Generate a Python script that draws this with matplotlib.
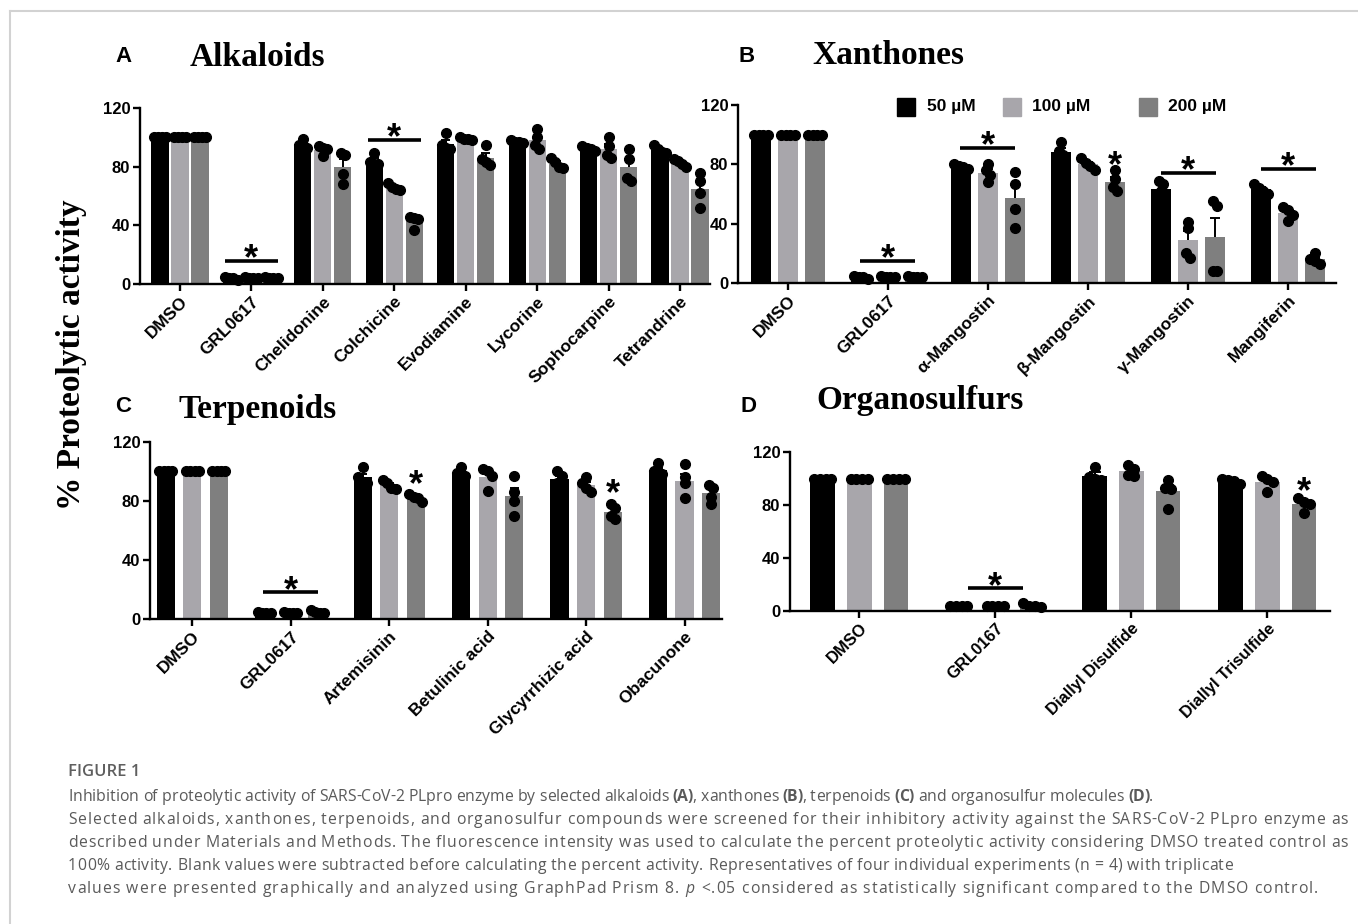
import re
import numpy as np
import matplotlib
matplotlib.use("Agg")
import matplotlib.pyplot as plt
from matplotlib.lines import Line2D
from matplotlib.patches import Rectangle

# -----------------------------
# Replicate values (% activity, n = 4) for 50 / 100 / 200 uM
# -----------------------------
alk_names = ["DMSO", "GRL0617", "Chelidonine", "Colchicine", "Evodiamine",
             "Lycorine", "Sophocarpine", "Tetrandrine"]
alk_50 = [[100, 100, 100, 100], [3, 4, 4, 5], [99, 95, 93, 94], [89, 83, 82, 82],
          [103, 95, 93, 92], [98, 97, 97, 96], [94, 93, 92, 91], [95, 92, 90, 89]]
alk_100 = [[100, 100, 100, 100], [4, 4, 5, 4], [94, 93, 87, 92], [69, 66, 65, 64],
           [100, 99, 98, 99], [106, 100, 95, 92], [100, 94, 88, 86], [85, 84, 82, 80]]
alk_200 = [[100, 100, 100, 100], [4, 5, 4, 4], [89, 88, 75, 68], [46, 45, 44, 37],
           [95, 85, 83, 81], [86, 83, 80, 79], [92, 85, 72, 70], [76, 70, 62, 52]]

xan_names = ["DMSO", "GRL0617", "α-Mangostin", "β-Mangostin", "γ-Mangostin", "Mangiferin"]
xan_50 = [[100, 100, 100, 100], [3, 4, 4, 5], [80, 79, 78, 77], [95, 89, 86, 82],
          [69, 67, 62, 55], [67, 64, 62, 60]]
xan_100 = [[100, 100, 100, 100], [4, 5, 4, 4], [80, 76, 73, 68], [84, 81, 79, 76],
           [41, 37, 20, 17], [51, 49, 46, 42]]
xan_200 = [[100, 100, 100, 100], [4, 5, 4, 4], [75, 67, 50, 37], [76, 70, 65, 62],
           [55, 52, 8, 8], [20, 16, 15, 13]]

ter_names = ["DMSO", "GRL0617", "Artemisinin", "Betulinic acid", "Glycyrrhizic acid", "Obacunone"]
ter_50 = [[100, 100, 100, 100], [4, 4, 5, 4], [103, 96, 93, 92], [103, 99, 98, 97],
          [100, 97, 92, 90], [106, 100, 99, 98]]
ter_100 = [[100, 100, 100, 100], [4, 4, 4, 5], [94, 92, 89, 88], [102, 100, 97, 87],
           [96, 92, 89, 86], [105, 96, 92, 82]]
ter_200 = [[100, 100, 100, 100], [4, 6, 5, 4], [85, 83, 82, 79], [97, 86, 80, 70],
           [78, 75, 70, 68], [91, 89, 83, 78]]

org_names = ["DMSO", "GRL0167", "Diallyl Disulfide", "Diallyl Trisulfide"]
org_50 = [[100, 100, 100, 100], [4, 4, 4, 4], [109, 101, 100, 99], [100, 99, 98, 96]]
org_100 = [[100, 100, 100, 100], [4, 4, 4, 4], [110, 107, 103, 102], [102, 100, 97, 90]]
org_200 = [[100, 100, 100, 100], [3, 4, 6, 4], [99, 93, 92, 77], [85, 82, 81, 74]]

conc_labels = ["50 µM", "100 µM", "200 µM"]

# significance: (group, height) for bracket lines, (group, dose, height) for single stars
alk_lines = [(1, 16), (3, 98)]
xan_lines = [(1, 15), (2, 91), (4, 74), (5, 77)]
xan_stars = [(3, 2, 85)]
ter_lines = [(1, 18)]
ter_stars = [(2, 2, 97), (4, 2, 91)]
org_lines = [(1, 17)]
org_stars = [(3, 2, 97)]

colors = ["#000000", "#a8a6ab", "#7f7f7f"]
W, H = 1358, 924
SANS = "Liberation Sans"
SERIF = "Liberation Serif"
CAP = "Open Sans"


def spread(vals, step, tol=3.0):
    # push overlapping dots sideways, like a Prism scatter
    vals = np.asarray(vals, float)
    order = np.argsort(vals)[::-1]
    clusters = []
    for i in order:
        if clusters and abs(vals[clusters[-1][-1]] - vals[i]) <= tol:
            clusters[-1].append(i)
        else:
            clusters.append([i])
    offs = np.zeros(len(vals))
    for c in clusters:
        n = len(c)
        for k, i in enumerate(c):
            offs[i] = (k - (n - 1) / 2) * step
    return offs


def star(ax, x, y, dy=-14):
    ax.annotate("*", (x, y), xytext=(0, dy), textcoords="offset points",
                ha="center", va="baseline", fontsize=26, fontweight="bold",
                family=SANS, annotation_clip=False)


def panel(rect, names, doses, width, shift, xlim, lines, stars, half, fs=12.5):
    ax = fig.add_axes([rect[0] / W, 1 - rect[3] / H,
                       (rect[2] - rect[0]) / W, (rect[3] - rect[1]) / H])
    x = np.arange(len(names))
    for j, reps in enumerate(doses):
        reps = np.array(reps, float)
        mean = reps.mean(axis=1)
        sem = reps.std(axis=1, ddof=1) / np.sqrt(reps.shape[1])
        xs = x + (j - 1) * shift
        ax.bar(xs, mean, width, color=colors[j], zorder=2)
        ax.vlines(xs, mean, mean + sem, color="k", lw=1.4, zorder=3)
        ax.hlines(mean + sem, xs - width * 0.25, xs + width * 0.25, color="k", lw=1.4, zorder=3)
        for xi, row in zip(xs, reps):
            ax.plot(xi + spread(row, width * 0.24), row, "o", color="k", ms=7,
                    mec="k", zorder=4, clip_on=False)
    for g, yv in lines:
        ax.plot([g - half, g + half], [yv, yv], color="k", lw=2.6, solid_capstyle="butt")
        star(ax, g, yv, dy=-6)
    for g, j, yv in stars:
        star(ax, g + (j - 1) * shift, yv)

    ax.set_xlim(*xlim)
    ax.set_ylim(0, 120)
    ax.spines[["top", "right"]].set_visible(False)
    ax.spines[["left", "bottom"]].set_linewidth(1.7)
    ax.tick_params(width=1.7, length=5, direction="out", pad=2)
    ax.set_yticks([0, 40, 80, 120])
    ax.set_yticklabels(["0", "40", "80", "120"], fontsize=12, fontweight="bold", family=SANS)
    ax.set_xticks(x)
    ax.set_xticklabels(names, rotation=45, ha="right", rotation_mode="anchor",
                       fontsize=fs, fontweight="bold", family=SANS)
    return ax


fig = plt.figure(figsize=(W / 100, H / 100), dpi=100)

panel((140, 108, 710, 284), alk_names, [alk_50, alk_100, alk_200], 0.24, 0.28,
      (-0.56, 7.42), alk_lines, [], 0.37)
panel((738, 105, 1336, 283), xan_names, [xan_50, xan_100, xan_200], 0.195, 0.27,
      (-0.5, 5.48), xan_lines, xan_stars, 0.275)
panel((150, 442, 722, 619), ter_names, [ter_50, ter_100, ter_200], 0.185, 0.27,
      (-0.43, 5.38), ter_lines, ter_stars, 0.28)
panel((790, 452, 1330, 611), org_names, [org_50, org_100, org_200], 0.18, 0.27,
      (-0.51, 3.46), org_lines, org_stars, 0.2, fs=12)

# panel letters and titles
for letter, lx, ly, title, tx, ty in [("A", 123, 57, "Alkaloids", 257, 58),
                                      ("B", 747, 56, "Xanthones", 888, 56),
                                      ("C", 123, 407, "Terpenoids", 258, 409),
                                      ("D", 749, 406, "Organosulfurs", 920, 400)]:
    fig.text(lx / W, 1 - ly / H, letter, family=SANS, weight="bold", size=16,
             ha="center", va="center")
    fig.text(tx / W, 1 - ty / H, title, family=SERIF, weight="bold", size=24,
             ha="center", va="center")

fig.text(72 / W, 1 - 355 / H, "% Proteolytic activity", family=SERIF, weight="bold",
         size=24, rotation=90, ha="center", va="center")

# legend
for lab, col, sx, txx in zip(conc_labels, colors, [897, 1003, 1139], [927, 1032, 1168]):
    fig.add_artist(Rectangle((sx / W, 1 - 116 / H), 18 / W, 18 / H,
                             transform=fig.transFigure, color=col))
    fig.text(txx / W, 1 - 107 / H, lab, family=SANS, weight="bold", size=12.5,
             ha="left", va="center")

# frame lines
fig.add_artist(Line2D([10 / W, 1], [1 - 11 / H, 1 - 11 / H], transform=fig.transFigure,
                      color="#d2d2d2", lw=1.5))
fig.add_artist(Line2D([10 / W, 10 / W], [0, 1 - 11 / H], transform=fig.transFigure,
                      color="#d2d2d2", lw=1.5))

# caption: set glyph by glyph so each line can be letter-spaced to its right edge
cap_lines = [
    "Inhibition of proteolytic activity of SARS-CoV-2 PLpro enzyme by selected alkaloids "
    "(A), xanthones (B), terpenoids (C) and organosulfur molecules (D).",
    "Selected alkaloids, xanthones, terpenoids, and organosulfur compounds were screened for "
    "their inhibitory activity against the SARS-CoV-2 PLpro enzyme as",
    "described under Materials and Methods. The fluorescence intensity was used to calculate "
    "the percent proteolytic activity considering DMSO treated control as",
    "100% activity. Blank values were subtracted before calculating the percent activity. "
    "Representatives of four individual experiments (n = 4) with triplicate",
    "values were presented graphically and analyzed using GraphPad Prism 8. p <.05 "
    "considered as statistically significant compared to the DMSO control.",
]
cap_right = [1153, 1348, 1348, 1233, 1318]
CAP_SIZE = 11.3
CAP_COLOR = "#5a5a5a"

fig.text(68 / W, 1 - 772 / H, "FIGURE 1", family=CAP, weight="semibold",
         size=12, color="#5f5f5f", va="center")

renderer = fig.canvas.get_renderer()


def ink_width(s):
    t = fig.text(0, 0, s, family=CAP, size=CAP_SIZE)
    w = t.get_window_extent(renderer).width
    t.remove()
    return w


for i, (line, right) in enumerate(zip(cap_lines, cap_right)):
    base = 1 - (801 + 23 * i) / H
    bold = set()
    for m in re.finditer(r"\([A-D]\)", line):
        bold.update(range(m.start(), m.end()))
    italic = set(m.start() for m in re.finditer(r"(?<= )p(?= <)", line))
    natural_end = ink_width(line)
    extra = (right - 68 - natural_end) / (len(line) - 1)
    for k, ch in enumerate(line):
        if ch == " ":
            continue
        start = ink_width(line[:k + 1]) - ink_width(ch)
        fig.text((68 + start + k * extra) / W, base, ch, family=CAP, size=CAP_SIZE,
                 color=CAP_COLOR, va="baseline", ha="left",
                 weight="bold" if k in bold else "normal",
                 style="italic" if k in italic else "normal")

fig.savefig("out.png", dpi=100)
